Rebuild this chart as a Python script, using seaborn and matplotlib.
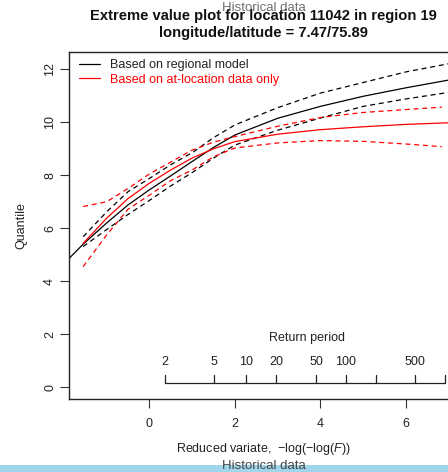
import numpy as np
import pandas as pd
import matplotlib
matplotlib.use("Agg")
import matplotlib.pyplot as plt
from matplotlib.patches import Rectangle
import seaborn as sns

# ---------------- data ----------------
x_regional = [-1.874, -1.55, -1.0, -0.5, 0.0, 0.5, 1.0, 1.5, 2.0, 3.0, 4.0, 5.0, 6.0, 7.3]
y_regional = [4.87, 5.40, 6.20, 6.88, 7.45, 7.98, 8.52, 9.05, 9.52, 10.15, 10.60, 10.98, 11.30, 11.68]

x_band = [-1.55, -1.0, -0.5, 0.0, 0.5, 1.0, 1.5, 2.0, 3.0, 4.0, 5.0, 6.0, 7.3]
y_regional_upper = [5.68, 6.62, 7.38, 7.88, 8.40, 8.85, 9.42, 9.90, 10.55, 11.10, 11.50, 11.90, 12.30]
y_regional_lower = [5.31, 5.95, 6.52, 7.05, 7.60, 8.10, 8.65, 9.14, 9.70, 10.16, 10.60, 10.88, 11.20]

x_local = [-1.55, -1.0, -0.5, 0.0, 0.5, 1.0, 1.5, 2.0, 3.0, 4.0, 5.0, 6.0, 7.3]
y_local = [5.43, 6.38, 7.12, 7.70, 8.20, 8.65, 9.00, 9.27, 9.55, 9.72, 9.83, 9.92, 10.00]
x_local_band = [-1.55, -1.0, -0.5, 0.0, 0.5, 1.0, 1.5, 2.0, 3.0, 4.0, 5.0, 6.0, 6.84]
y_local_upper = [6.82, 7.00, 7.50, 8.05, 8.50, 8.95, 9.25, 9.46, 9.85, 10.18, 10.37, 10.48, 10.57]
y_local_lower = [4.55, 5.75, 6.72, 7.25, 7.80, 8.20, 8.70, 9.03, 9.22, 9.31, 9.28, 9.18, 9.08]

return_periods = [2, 5, 10, 20, 50, 100, 200, 500, 1000]
return_labels = ["2", "5", "10", "20", "50", "100", "", "500", ""]

x_ticks = [0, 2, 4, 6]
y_ticks = [0, 2, 4, 6, 8, 10, 12]

legend_labels = ["Based on regional model", "Based on at-location data only"]
title_line1 = "Extreme value plot for location 11042 in region 19"
title_line2 = "longitude/latitude = 7.47/75.89"
overlay_text = "Historical data"

# ---------------- style ----------------
sns.set_style("ticks")
plt.rcParams["font.family"] = ["Liberation Sans", "DejaVu Sans"]
plt.rcParams["mathtext.fontset"] = "custom"
plt.rcParams["mathtext.rm"] = "Liberation Sans"
plt.rcParams["mathtext.it"] = "Liberation Sans:italic"
plt.rcParams["axes.unicode_minus"] = True

W, H = 448, 472
fig = plt.figure(figsize=(W / 100, H / 100), dpi=100)
fig.patch.set_facecolor("white")

ax_l, ax_r, ax_t, ax_b = 69.3, 457.7, 52.3, 399.3
ax = fig.add_axes([ax_l / W, 1 - ax_b / H, (ax_r - ax_l) / W, (ax_b - ax_t) / H])
ax.set_facecolor("white")

black = "#000000"
red = "#ff0000"
dash = (0, (4, 3))
lw = 0.9
fs = 9.0

sns.lineplot(x=x_regional, y=y_regional, ax=ax, color=black, lw=lw, label=legend_labels[0])
sns.lineplot(x=x_band, y=y_regional_upper, ax=ax, color=black, lw=lw, linestyle=dash)
sns.lineplot(x=x_band, y=y_regional_lower, ax=ax, color=black, lw=lw, linestyle=dash)
sns.lineplot(x=x_local, y=y_local, ax=ax, color=red, lw=lw, label=legend_labels[1])
sns.lineplot(x=x_local_band, y=y_local_upper, ax=ax, color=red, lw=lw, linestyle=dash)
sns.lineplot(x=x_local_band, y=y_local_lower, ax=ax, color=red, lw=lw, linestyle=dash)

px_per_x = 42.75
x0_px = 149.4
ax.set_xlim((ax_l - x0_px) / px_per_x, (ax_r - x0_px) / px_per_x)
ax.set_ylim(-0.453, 12.64)

ax.set_xticks(x_ticks)
ax.set_yticks(y_ticks)
ax.set_xticklabels([str(v) for v in x_ticks])
ax.set_yticklabels([str(v) for v in y_ticks], rotation=90, va="center")
ax.tick_params(axis="both", direction="out", length=6.5, width=0.8, color="#333333",
               labelsize=fs, labelcolor="#222222")
ax.tick_params(axis="x", pad=7)
ax.tick_params(axis="y", pad=3)
for s in ["left", "bottom", "top"]:
    ax.spines[s].set_linewidth(1.0)
    ax.spines[s].set_color("#222222")
ax.spines["right"].set_visible(False)

ax.set_xlabel("Reduced variate,  $-\\mathrm{log}(-\\mathrm{log}(\\mathit{F}))$", fontsize=fs,
              color="#222222", labelpad=8)
ax.set_ylabel("Quantile", fontsize=fs, color="#222222", labelpad=12)

# return period axis
rp_x = [-np.log(-np.log(1 - 1 / T)) for T in return_periods]
y_axis = 0.16
tick_h = 0.30
ax.plot([rp_x[0], rp_x[-1]], [y_axis, y_axis], color="#222222", lw=0.9)
for xv, lab in zip(rp_x, return_labels):
    ax.plot([xv, xv], [y_axis, y_axis + tick_h], color="#222222", lw=0.9)
    if lab:
        ax.text(xv, 0.97, lab, ha="center", va="center", fontsize=fs, color="#222222")
ax.text((rp_x[0] + rp_x[-1]) / 2 + 0.05, 1.86, "Return period", ha="center", va="center",
        fontsize=fs, color="#222222")

# legend
leg = ax.legend(loc="upper left", bbox_to_anchor=(0.025, 0.98), frameon=False,
                fontsize=fs, handlelength=1.7, handletextpad=0.75, labelspacing=0.2,
                borderpad=0, borderaxespad=0)
leg.get_texts()[0].set_color("#222222")
leg.get_texts()[1].set_color(red)

# titles
cx = ((ax_l + ax_r) / 2) / W
fig.text(cx, 1 - 16 / H, title_line1, ha="center", va="center", fontsize=10.6,
         fontweight="bold", color="#111111")
fig.text(cx, 1 - 32.5 / H, title_line2, ha="center", va="center", fontsize=10.6,
         fontweight="bold", color="#111111")
fig.text(cx, 1 - 8 / H, overlay_text, ha="center", va="center", fontsize=9.5,
         color="#555555", alpha=0.85)

# bottom bar
fig.patches.append(Rectangle((0, 0), 1, 7 / H, transform=fig.transFigure,
                             facecolor="#9fd6ec", edgecolor="none", zorder=0))
fig.text(264 / W, 1 - 466 / H, overlay_text, ha="center", va="center", fontsize=9.5,
         color="#444444")

fig.savefig("out.png", dpi=100)
